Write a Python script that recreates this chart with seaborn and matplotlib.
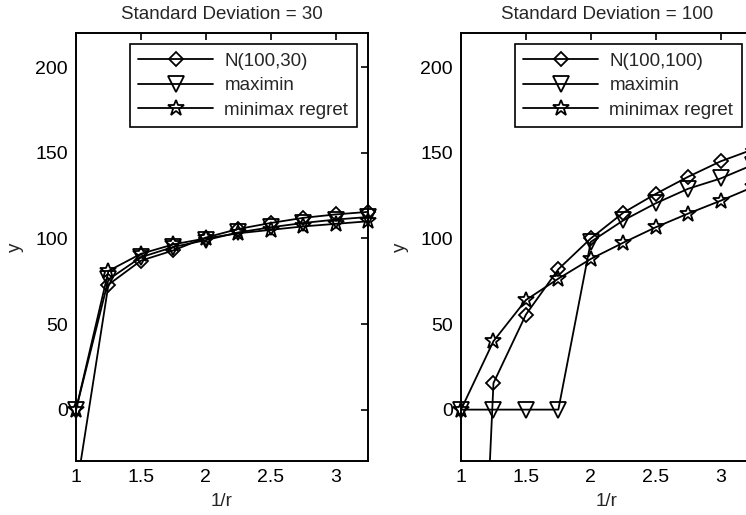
import matplotlib
matplotlib.use("Agg")
import matplotlib.pyplot as plt
from matplotlib.lines import Line2D
import numpy as np
import pandas as pd
import seaborn as sns

# Shared x grid (1/r)
inv_r = [1.0, 1.25, 1.5, 1.75, 2.0, 2.25, 2.5, 2.75, 3.0, 3.25]

# Standard deviation = 30
sd30_normal = [-48, 73, 87, 93, 100.5, 105.5, 109, 112, 114, 115.5]
sd30_maximin = [0, 76, 89, 95, 99, 103.5, 106.5, 109, 111, 112.5]
sd30_regret = [0, 81, 91, 96.5, 100, 103, 105, 107, 108.5, 110]

# Standard deviation = 100
sd100_normal = [-400, 15.5, 55.5, 82, 100, 115, 126, 136, 145, 152]
sd100_maximin = [0, 0, 0, 0, 98, 110.5, 120.5, 129, 135, 143]
sd100_regret = [0, 40, 64, 76.5, 88, 97.5, 106.5, 114.5, 122, 130]

titles = ["Standard Deviation = 30", "Standard Deviation = 100"]
normal_labels = ["N(100,30)", "N(100,100)"]
series_labels = ["maximin", "minimax regret"]
x_ticks = [1, 1.5, 2, 2.5, 3]
y_ticks = [0, 50, 100, 150, 200]

sns.set_style("white")
plt.rcParams["font.family"] = ["Liberation Sans", "DejaVu Sans"]
plt.rcParams["font.size"] = 13.5

fig = plt.figure(figsize=(7.46, 5.15), dpi=100)
axes = [fig.add_axes([0.1019, 0.1049, 0.3914, 0.8311]),
        fig.add_axes([0.618, 0.1049, 0.3914, 0.8311])]

panels = [
    (sd30_normal, sd30_maximin, sd30_regret),
    (sd100_normal, sd100_maximin, sd100_regret),
]
markers = [("D", 7.6), ("v", 11), ("*", 12)]
ylo, yhi = -30, 220
lw = 1.3

for k, ax in enumerate(axes):
    labels = [normal_labels[k]] + series_labels
    frames = []
    for vals, lab in zip(panels[k], labels):
        frames.append(pd.DataFrame({"x": inv_r, "y": vals, "series": lab}))
    df = pd.concat(frames, ignore_index=True)

    handles = []
    for (mk, ms), lab in zip(markers, labels):
        sub = df[df["series"] == lab]
        sns.lineplot(data=sub, x="x", y="y", ax=ax, color="black",
                     linewidth=lw, estimator=None, sort=False, legend=False)
        vis = sub[(sub["y"] >= ylo) & (sub["y"] <= yhi)]
        ax.plot(vis["x"], vis["y"], linestyle="none", marker=mk, ms=ms,
                mfc="none", mec="black", mew=lw, clip_on=False, zorder=5)
        handles.append(Line2D([], [], color="black", lw=lw, marker=mk,
                              ms=ms, mfc="none", mec="black", mew=lw,
                              label=lab))

    ax.set_xlim(1, 3.25)
    ax.set_ylim(ylo, yhi)
    ax.set_xticks(x_ticks)
    ax.set_xticklabels(["1", "1.5", "2", "2.5", "3"])
    ax.set_yticks(y_ticks)
    ax.tick_params(direction="in", length=5, width=1.2, top=True,
                   right=True, labelsize=14, pad=6, colors="black")
    for sp in ax.spines.values():
        sp.set_visible(True)
        sp.set_color("black")
        sp.set_linewidth(1.4)
    ax.set_xlabel("1/r", fontsize=13.5, labelpad=5)
    ax.set_ylabel("y", fontsize=13.5, labelpad=8)
    ax.set_title(titles[k], fontsize=13.5, pad=10)

    leg = ax.legend(handles=handles, loc="upper right", fontsize=13.5,
                    frameon=True, fancybox=False, framealpha=1,
                    edgecolor="black", handlelength=4.0, handletextpad=0.6,
                    labelspacing=0.4, borderpad=0.45, borderaxespad=0.6)
    leg.get_frame().set_linewidth(1.2)

fig.savefig("out.png", dpi=100)
